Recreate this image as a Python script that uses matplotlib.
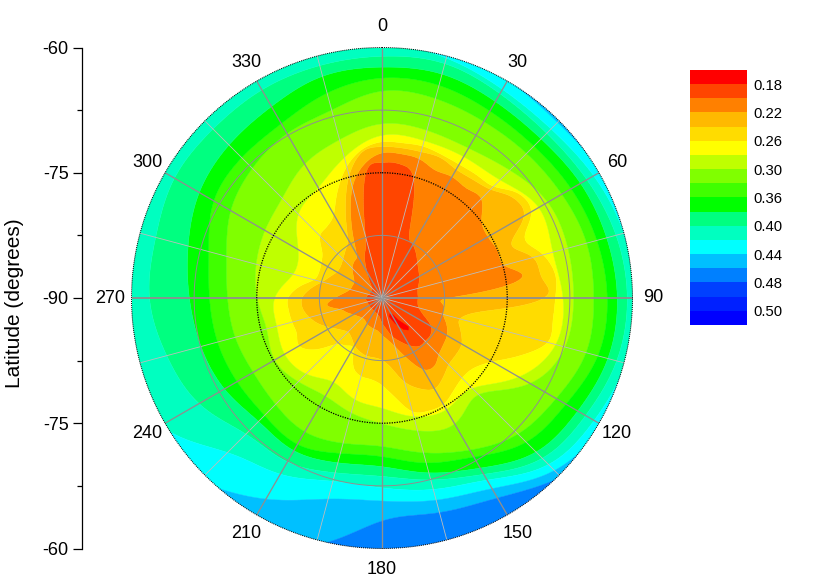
import numpy as np
import matplotlib
matplotlib.use("Agg")
import matplotlib.pyplot as plt
from matplotlib.patches import Circle

plt.rcParams['font.family'] = ['Liberation Sans', 'DejaVu Sans']

# Contour positions: distance from the pole along each azimuth,
# in units where 250 = the -60 degree rim. Azimuths are evenly spaced from 0 clockwise.
r_020 = [135,135,125,70,62,56,50,46,43,40,37,36,36,36,38,45,57,61,61,61,55,47,40,31,25,19,17,16,15,15,15,15,15,15,15,16,16,15,14,13,13,13,14,20,30,46,62,128]
r_022 = [145,145,144,138,140,138,141,125,122,125,125,143,63,63,63,70,75,77,80,86,83,65,50,42,37,33,32,31,30,28,28,30,33,38,43,56,47,38,33,32,32,36,42,46,50,80,115,135]
r_024 = [151,151,151,152,148,149,153,165,165,138,157,160,165,100,80,85,92,93,94,100,105,98,87,70,62,60,60,58,55,50,48,52,59,68,75,80,80,72,62,56,52,52,55,60,68,95,127,148]
r_026 = [156,156,157,155,154,155,157,172,173,153,167,175,173,172,172,150,127,115,113,117,123,122,118,100,87,82,81,75,57,60,65,85,96,92,93,94,94,84,70,68,70,75,88,90,96,116,136,150]
r_028 = [164,162,163,165,183,175,181,181,159,124,130,123,109,106,95,108,113,108,109,90,95,120,126,145]
r_030 = [175,173,172,180,192,192,191,190,173,131,148,137,125,119,112,118,125,118,125,130,135,140,155,163]
r_033 = [208,206,203,204,207,212,211,212,200,193,175,160,147,150,155,150,148,152,154,160,175,183,190,193]
r_036 = [220,220,215,214,218,222,225,224,211,205,182,171,157,160,170,165,167,170,172,178,195,198,200,212]
r_038 = [230,232,226,224,229,232,235,234,225,219,195,181,167,170,177,173,182,187,192,200,211,216,220,230]
r_040 = [241,243,235,232,236,242,245,243,234,228,202,188,177,180,190,190,212,222,233,233,240,238,240,240]
r_042 = [254,248,240,238,244,250,251,252,244,237,208,198,189,188,204,215,258,268,268,262,262,260,256,254]
r_044 = [275,258,251,247,253,262,270,265,255,245,218,209,202,206,232,258,290,300,300,295,290,285,280,278]
r_046 = [300,295,280,275,285,295,300,290,275,253,229,222,219,257,280,300,320,330,330,330,330,330,320,310]

contour_levels = [0.20, 0.22, 0.24, 0.26, 0.28, 0.30, 0.33, 0.36, 0.38, 0.40, 0.42, 0.44, 0.46]
pole_value = 0.19
outer_value = 0.50
outer_radius = 420

# Small island below 0.18 near the pole
island_az = [152.4, 146.4, 143.5, 137.5, 140.6, 145.8, 152.8, 158.7]
island_r = [17.3, 20.4, 27.4, 38.9, 41.4, 37.9, 28.4, 20.0]

band_edges = [0.16, 0.18, 0.20, 0.22, 0.24, 0.26, 0.28, 0.30, 0.33, 0.36, 0.38, 0.40, 0.42, 0.44, 0.46, 0.48, 0.49, 0.50, 0.52]
band_colors = ['#ff0000', '#ff4500', '#ff8000', '#ffb900', '#ffdc00', '#ffff00', '#bfff00', '#80ff00', '#40ff00',
               '#00ff00', '#00ff80', '#00ffc0', '#00ffff', '#00c0ff', '#0080ff', '#0040ff', '#0020ff', '#0000ff']
bar_ticks = [0.18, 0.22, 0.26, 0.30, 0.36, 0.40, 0.44, 0.48, 0.50]
lat_ticks = [-30, -15, 0, 15, 30]
lat_labels = ['-60', '-75', '-90', '-75', '-60']
az_labels = [0, 30, 60, 90, 120, 150, 180, 210, 240, 270, 300, 330]
ring_colat = [7.5, 22.5]

W, H = 830, 583
CX, CY, RAD = 382.0, 298.0, 250.5
RIM = 30.0
SCALE = RIM / 250.0


def px_axes(x0, y0, x1, y1, **kw):
    return fig.add_axes([x0 / W, 1 - y1 / H, (x1 - x0) / W, (y1 - y0) / H], **kw)


def periodic_curve(values, theta):
    v = np.asarray(values, float)
    n = len(v)
    pos = (theta % 360) / 360 * n
    i = np.floor(pos).astype(int)
    t = pos - i
    p0, p1, p2, p3 = v[(i - 1) % n], v[i % n], v[(i + 1) % n], v[(i + 2) % n]
    c = 0.5 * (2 * p1 + (p2 - p0) * t + (2 * p0 - 5 * p1 + 4 * p2 - p3) * t ** 2 + (3 * p1 - p0 - 3 * p2 + p3) * t ** 3)
    # soften the sample-to-sample corners, as the reference's contours are smooth
    sigma = (1.6 if n == 48 else 5.0) / (theta[1] - theta[0])
    half = int(4 * sigma)
    kernel = np.exp(-0.5 * (np.arange(-half, half + 1) / sigma) ** 2)
    kernel /= kernel.sum()
    body = c[:-1]
    wrapped = np.r_[body[-half:], body, body[:half]]
    smooth = np.convolve(wrapped, kernel, mode='valid')
    return np.r_[smooth, smooth[0]]


fig = plt.figure(figsize=(W / 100, H / 100), dpi=100, facecolor='white')
ax = px_axes(CX - RAD, CY - RAD, CX + RAD, CY + RAD)
ax.set_xlim(-RIM, RIM)
ax.set_ylim(-RIM, RIM)
ax.axis('off')

theta = np.linspace(0, 360, 1441)
radius = np.linspace(0, 256, 1025)
curves = np.array([periodic_curve(c, theta) for c in
                   (r_020, r_022, r_024, r_026, r_028, r_030, r_033, r_036, r_038, r_040, r_042, r_044, r_046)])
curves = np.maximum(curves, 2.0)
curves = np.maximum.accumulate(curves + np.arange(len(curves))[:, None] * 1e-3, axis=0)
fp = np.r_[pole_value, contour_levels, outer_value]
field = np.empty((theta.size, radius.size))
for j in range(theta.size):
    xp = np.r_[0.0, curves[:, j], outer_radius]
    field[j] = np.interp(radius, xp, fp)
th = np.deg2rad(theta)[:, None]
X = radius[None, :] * SCALE * np.sin(th)
Y = radius[None, :] * SCALE * np.cos(th)
cf = ax.contourf(X, Y, field, levels=band_edges, colors=band_colors, antialiased=True)
cf.set_edgecolor('face')
cf.set_linewidth(0.3)
clip = Circle((0, 0), RIM, transform=ax.transData)
cf.set_clip_path(clip)

ia = np.deg2rad(island_az)
ax.fill(np.array(island_r) * SCALE * np.sin(ia), np.array(island_r) * SCALE * np.cos(ia),
        color=band_colors[0], lw=0.3, zorder=3)

# grid
for az in range(0, 360, 15):
    a = np.deg2rad(az)
    major = az % 30 == 0
    if az in (90, 270):
        lw = 1.3
    elif major:
        lw = 0.95
    else:
        lw = 0.6
    ax.plot([0, RIM * np.sin(a)], [0, RIM * np.cos(a)],
            color='#8f8f8f' if major else '#bdbdbd',
            lw=lw, zorder=4, solid_capstyle='butt')
circ = np.linspace(0, 2 * np.pi, 721)
for c in ring_colat:
    ax.plot(c * np.sin(circ), c * np.cos(circ), color='#8f8f8f', lw=0.7, zorder=4)
ax.plot(15 * np.sin(circ), 15 * np.cos(circ), color='black', lw=0.9, ls=(0, (1, 1)), zorder=5)
ax.plot(RIM * np.sin(circ), RIM * np.cos(circ), color='black', lw=0.7, ls=(0, (1, 1)), zorder=5, clip_on=False)

for az in az_labels:
    a = np.deg2rad(az)
    ax.text(32.5 * np.sin(a), 32.5 * np.cos(a), str(az), ha='center', va='center',
            fontsize=13, clip_on=False, color='black')

# latitude axis
lax = px_axes(82, CY - RAD, 82.01, CY + RAD)
lax.set_ylim(-RIM, RIM)
lax.set_xticks([])
for s in ('top', 'bottom', 'left'):
    lax.spines[s].set_visible(False)
lax.spines['right'].set_linewidth(0.9)
lax.set_yticks(lat_ticks)
lax.set_yticklabels(lat_labels, fontsize=13)
lax.set_yticks([-22.5, -7.5, 7.5, 22.5], minor=True)
lax.tick_params(axis='y', which='major', length=6.5, width=0.9, pad=3.2)
lax.tick_params(axis='y', which='minor', length=3.6, width=0.9)
fig.text(15 / W, 1 - 303 / H, 'Latitude (degrees)', rotation=90, ha='center', va='center', fontsize=15)

# colour bar
cax = px_axes(690, 70, 747, 325)
cb = fig.colorbar(cf, cax=cax, spacing='uniform', ticks=bar_ticks)
cax.invert_yaxis()
cb.outline.set_visible(False)
cb.ax.minorticks_off()
cb.ax.set_yticklabels(['%.2f' % t for t in bar_ticks], fontsize=10.7)
cb.ax.tick_params(length=0, pad=4.5)

fig.savefig('out.png', dpi=100)
